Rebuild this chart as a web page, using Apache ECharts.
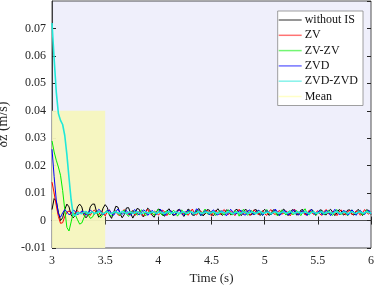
<!DOCTYPE html>
<html><head><meta charset="utf-8">
<script src="https://cdn.jsdelivr.net/npm/echarts@6/dist/echarts.min.js"></script>
<style>html,body{margin:0;padding:0;background:#fff}#c{width:374px;height:287px}</style>
</head><body><div id="c"></div>
<script>
// time grid: 3.00 .. 6.00 s, step 0.02 s
const tStart = 3, tStep = 0.02, nPts = 151;
const seriesNames = ['without IS','ZV','ZV-ZV','ZVD','ZVD-ZVD','Mean'];
const withoutIS = [.004,.008,.007,.003,.000,.001,.004,.006,.005,.002,.001,.002,.005,.006,.005,.002,.001,.002,.005,.006,
.006,.003,.0012,.002,.0045,.0058,.0048,.002,.0008,.003,.0052,.0049,.0025,.001,.0022,.0046,.0047,.0026,.0009,.0024,
.0044,.0041,.0022,.0013,.0031,.0045,.0038,.002,.0012,.003,.0042,.0039,.0021,.0016,.0034,.0043,.0032,.0018,.0022,.0038,
.0041,.0027,.0015,.0026,.0042,.0036,.002,.0019,.0035,.0044,.003,.0017,.0024,.004,.0038,.0022,.0018,.0033,.0043,.0031,
.0019,.0025,.0039,.0036,.0021,.0023,.0037,.0041,.0026,.0018,.003,.0042,.0034,.002,.0022,.0038,.004,.0024,.0019,.0032,
.0041,.0033,.0019,.0024,.0039,.0037,.0021,.002,.0035,.0042,.0028,.0018,.0027,.004,.0035,.002,.0023,.0038,.004,.0025,
.0019,.0031,.0042,.0032,.0019,.0026,.0039,.0037,.0022,.0021,.0034,.0041,.003,.0018,.0028,.004,.0035,.002,.0024,.0038,
.0039,.0023,.002,.0033,.0041,.0029,.0018,.0029,.004,.0034,.0022];
const zv = [.014,.010,.0055,.0015,-.001,-.0008,.0015,.003,.0035,.0028,.0022,.003,.0036,.0025,.0031,.0022,.0034,.0027,.0019,.0033,
.0038,.0026,.0021,.0035,.0029,.0017,.0032,.0039,.0024,.0028,.0036,.0021,.0018,.0033,.004,.0027,.0022,.0031,.0037,.0019,
.0026,.0034,.0029,.0016,.0031,.0041,.0025,.0023,.0035,.003,.002,.0027,.0038,.0032,.0018,.0029,.0036,.0024,.0021,.0034,
.0039,.0023,.0027,.0033,.0019,.003,.0042,.0026,.002,.0032,.0035,.0022,.0028,.0038,.0025,.0017,.0031,.0037,.0029,.0021,
.0033,.004,.0024,.0022,.0034,.0028,.0018,.003,.0041,.0027,.0023,.0035,.0032,.0019,.0026,.0039,.003,.0021,.0029,.0036,
.0024,.0019,.0033,.004,.0026,.0022,.0031,.0037,.0023,.0027,.0035,.0029,.0017,.003,.0042,.0028,.0021,.0032,.0034,.002,
.0027,.0038,.0031,.0022,.0029,.0036,.0023,.0019,.0034,.004,.0025,.0024,.0033,.0028,.0018,.0031,.0039,.0027,.0021,.0032,
.0037,.0022,.0026,.0035,.003,.0019,.0028,.004,.0029,.0023,.0032];
const zvzv = [.029,.025,.022,.0195,.0165,.011,.004,-.0025,-.0038,-.0005,.0028,.002,.0003,-.0013,-.0009,.001,.0029,.0022,.0008,.0012,
.0027,.0033,.0018,.0011,.0024,.0031,.0037,.0022,.0016,.0029,.0035,.0026,.0019,.0032,.0038,.0024,.0015,.0028,.0036,.0031,
.002,.0023,.0039,.0033,.0017,.0025,.0034,.0029,.0019,.0031,.0041,.0026,.0018,.003,.0036,.0022,.0024,.0037,.0032,.0016,
.0027,.0039,.0028,.002,.0033,.0035,.0021,.0026,.0038,.0029,.0017,.0031,.0042,.0025,.0022,.0034,.003,.0018,.0028,.0037,
.0026,.002,.0032,.0039,.0024,.0021,.0035,.0031,.0016,.0029,.0041,.0027,.0019,.0033,.0036,.0023,.0025,.0038,.0028,.0018,
.003,.004,.0026,.0021,.0034,.0032,.0017,.0027,.0039,.003,.002,.0031,.0036,.0022,.0024,.0037,.0029,.0018,.0032,.0043,
.0026,.0021,.0033,.0035,.0019,.0028,.0038,.0027,.0022,.0031,.0037,.0023,.0019,.0034,.004,.0025,.0022,.0036,.003,.0017,
.0029,.0039,.0028,.0021,.0033,.0035,.002,.0026,.0038,.0031,.0024];
const zvd = [.026,.016,.0075,.0025,.0012,.0028,.004,.0032,.0021,.0027,.0038,.0033,.0022,.0026,.0035,.003,.0019,.0028,.0039,.0031,
.0024,.003,.0041,.0034,.0021,.0027,.0036,.0038,.0025,.0019,.0032,.0042,.0029,.0022,.0031,.0037,.0024,.002,.0033,.004,
.0028,.0021,.003,.0039,.0034,.0019,.0026,.0037,.0031,.0022,.0029,.0041,.0033,.002,.0025,.0036,.0035,.0023,.0021,.0032,
.004,.0027,.0019,.003,.0038,.0031,.0022,.0028,.0043,.0034,.0018,.0026,.0037,.0029,.0021,.0033,.0039,.0025,.002,.0031,
.0036,.0028,.0017,.0029,.0041,.0032,.0023,.0027,.0035,.0037,.0022,.002,.0034,.0039,.0026,.0021,.003,.0038,.0033,.0019,
.0027,.0036,.003,.0022,.0029,.0042,.0031,.0018,.0026,.0037,.0034,.0021,.0024,.0035,.0039,.0025,.002,.0031,.0037,.0027,
.0019,.0033,.004,.0026,.0023,.0032,.0036,.0021,.0028,.0038,.003,.0018,.0029,.0041,.0032,.0022,.0027,.0036,.0034,.002,
.0025,.0039,.0031,.0019,.003,.0037,.0028,.0022,.0033,.0038,.0025];
const zvdzvd = [.072,.059,.047,.039,.0365,.035,.031,.024,.0155,.0075,.002,.0018,.003,.0027,.0025,.0031,.0033,.0026,.0028,.0031,
.0026,.0028,.0032,.0029,.0025,.0029,.0032,.0027,.0026,.003,.0032,.0027,.0028,.0033,.0029,.0026,.003,.0031,.0026,.0028,
.0032,.003,.0025,.0028,.0031,.0028,.0027,.003,.0032,.0026,.0029,.0031,.0027,.0026,.003,.0033,.0027,.0028,.0031,.0029,
.0025,.0029,.0032,.0027,.0027,.0031,.003,.0026,.0028,.0033,.0028,.0026,.003,.0031,.0027,.0029,.0032,.0028,.0026,.003,
.0031,.0027,.0028,.0033,.0029,.0025,.0029,.0031,.0027,.0027,.003,.0032,.0026,.0028,.0031,.0029,.0026,.003,.0033,.0027,
.0027,.003,.003,.0025,.0029,.0032,.0028,.0026,.0031,.0031,.0027,.0028,.0033,.0029,.0026,.003,.0031,.0027,.0028,.0032,
.0029,.0025,.0029,.0031,.0027,.0027,.003,.0032,.0026,.0028,.0031,.0029,.0026,.003,.0033,.0027,.0027,.003,.003,.0025,
.0029,.0032,.0028,.0026,.0031,.0031,.0027,.0028,.0033,.0029,.0027];
const meanLevel = [0.0026, 0.0026];
const meanTimes = [3, 6];
const meanBox = {t0: 3, t1: 3.5, y0: -0.01, y1: 0.04};

const colors = ['#000000','#ff0000','#00ee00','#0000ff','#20e8d8','#ffff99'];
const widths = [1, 1, 1, 1, 1.6];
const times = Array.from({length: nPts}, (_, i) => +(tStart + i * tStep).toFixed(2));
const pair = arr => arr.map((v, i) => [times[i], v]);
const font = 'Liberation Serif';

const chart = echarts.init(document.getElementById('c'), null, {renderer: 'canvas'});
const lineSeries = [withoutIS, zv, zvzv, zvd, zvdzvd].map((arr, k) => ({
  name: seriesNames[k], type: 'line', data: pair(arr), showSymbol: false, symbol: 'none',
  lineStyle: {width: widths[k], color: colors[k]}, itemStyle: {color: colors[k]}, z: 3 + k, animation: false
}));
const meanSeries = {
  name: 'Mean', type: 'line', data: meanTimes.map((t, i) => [t, meanLevel[i]]), symbol: 'none',
  lineStyle: {width: 1, color: colors[5]}, itemStyle: {color: colors[5]}, z: 2, animation: false,
  markArea: {silent: true, itemStyle: {color: 'rgba(245,245,190,0.95)'},
    data: [[{xAxis: meanBox.t0, yAxis: meanBox.y0}, {xAxis: meanBox.t1, yAxis: meanBox.y1}]]}
};
const axLabel = {fontFamily: font, fontSize: 12, color: '#262626'};
chart.setOption({
  animation: false,
  grid: {left: 52, right: 3, top: 1, bottom: 39, outerBoundsMode: 'none', containLabel: false,
    show: true, backgroundColor: '#efeffb', borderColor: '#262626', borderWidth: 0.8},
  legend: {
    orient: 'vertical', right: 11, top: 11, itemWidth: 23, itemHeight: 1.5, itemGap: 3.3, icon: 'rect',
    backgroundColor: '#ffffff', borderColor: '#888', borderWidth: 0.8, padding: [3, 5, 3, 1],
    textStyle: {fontFamily: font, fontSize: 12, color: '#111', padding: [0, 0, 0, -2]},
    data: seriesNames.map((n, k) => ({name: n, itemStyle: {color: colors[k], opacity: 0.55}}))
  },
  xAxis: [{
    type: 'value', min: 3, max: 6, interval: 0.5, name: 'Time (s)', nameLocation: 'middle', nameGap: 24,
    nameTextStyle: {fontFamily: font, fontSize: 13, color: '#262626'},
    axisLine: {lineStyle: {color: '#262626', width: 0.8}}, axisTick: {inside: true, length: 4, lineStyle: {color: '#262626'}},
    axisLabel: Object.assign({margin: 7}, axLabel), splitLine: {show: false}
  }, {
    type: 'value', position: 'top', min: 3, max: 6, interval: 0.5,
    axisLine: {show: false}, axisTick: {inside: true, length: 4, lineStyle: {color: '#262626'}},
    axisLabel: {show: false}, splitLine: {show: false}
  }],
  yAxis: [{
    type: 'value', min: -0.01, max: 0.08, interval: 0.01, name: 'δż (m/s)', nameLocation: 'middle', nameGap: 35,
    nameTextStyle: {fontFamily: font, fontSize: 14, color: '#262626'},
    axisLine: {show: true, lineStyle: {color: '#262626', width: 0.8}}, axisTick: {inside: true, length: 4, lineStyle: {color: '#262626'}},
    axisLabel: Object.assign({margin: 6, showMaxLabel: false, formatter: v => (Math.round(v * 100) / 100).toString()}, axLabel),
    splitLine: {show: false}
  }, {
    type: 'value', position: 'right', min: -0.01, max: 0.08, interval: 0.01,
    axisLine: {show: false}, axisTick: {inside: true, length: 4, lineStyle: {color: '#262626'}},
    axisLabel: {show: false}, splitLine: {show: false}
  }],
  series: [meanSeries].concat(lineSeries)
});
</script>
</body></html>
